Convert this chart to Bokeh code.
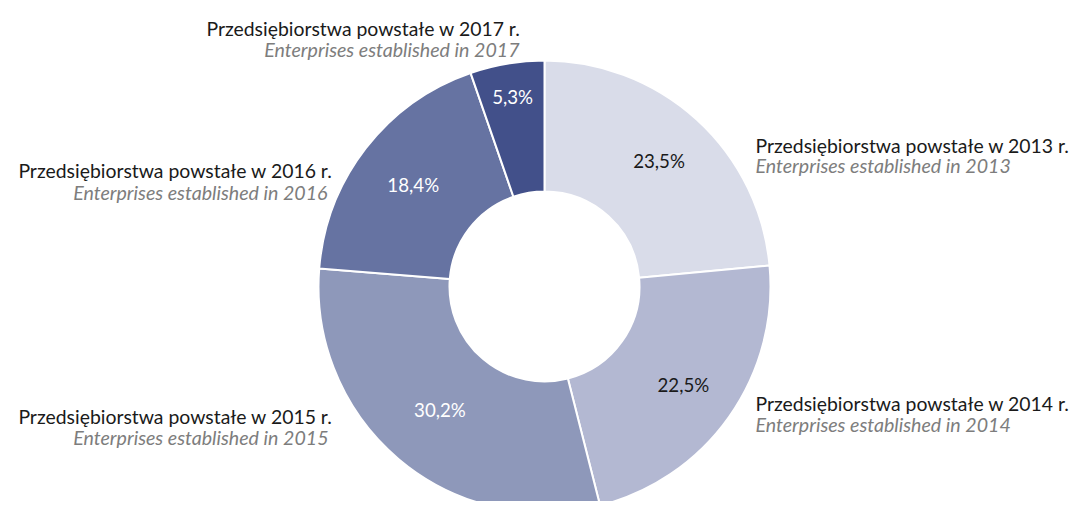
import math
from bokeh.plotting import figure
from bokeh.models import Range1d, ColumnDataSource
from bokeh.core.properties import value
from bokeh.embed import file_html
from bokeh.resources import INLINE

# ---- data ----
years = ["2013", "2014", "2015", "2016", "2017"]
shares = [23.5, 22.5, 30.2, 18.4, 5.3]
pl_labels = [
    "Przedsiębiorstwa powstałe w 2013 r.",
    "Przedsiębiorstwa powstałe w 2014 r.",
    "Przedsiębiorstwa powstałe w 2015 r.",
    "Przedsiębiorstwa powstałe w 2016 r.",
    "Przedsiębiorstwa powstałe w 2017  r.",
]
en_labels = [
    "Enterprises established in 2013",
    "Enterprises established in 2014",
    "Enterprises established in 2015",
    "Enterprises established in 2016",
    "Enterprises established in 2017",
]

# ---- styles / layout ----
colors = ["#d9dce9", "#b3b8d2", "#8e98ba", "#6673a2", "#42508a"]
pct_colors = ["#1a1a1a", "#1a1a1a", "#ffffff", "#ffffff", "#ffffff"]
FONT = "Lato"
W, H = 1074, 501


def Y(y_img):
    return -y_img


CX, CY = 544, Y(286)
R_OUT, R_IN = 226, 95
label_r = [170, 170, 162, 166, 192]
# category label anchors (x, main baseline, italic baseline, italic x, align)
cat_pos = [
    (755, 145, 165, 755, "left"),
    (755, 403, 424, 755, "left"),
    (332, 416, 437, 328, "right"),
    (332, 170, 192, 327, "right"),
    (525, 28, 49, 519, "right"),
]

p = figure(width=W, height=H, output_backend="svg", toolbar_location=None,
           x_range=Range1d(0, W), y_range=Range1d(-H, 0),
           min_border=0)
p.axis.visible = False
p.grid.visible = False
p.outline_line_color = None
p.background_fill_color = "white"
p.border_fill_color = "white"

total = sum(shares)
starts, ends, mids = [], [], []
cum = 0.0
for s in shares:
    f0 = cum / total
    cum += s
    f1 = cum / total
    starts.append(math.pi / 2 - f0 * 2 * math.pi)
    ends.append(math.pi / 2 - f1 * 2 * math.pi)
    mids.append(math.pi / 2 - (f0 + f1) / 2 * 2 * math.pi)

src = ColumnDataSource(dict(start=starts, end=ends, color=colors))
p.annular_wedge(x=CX, y=CY, inner_radius=R_IN, outer_radius=R_OUT,
                start_angle="start", end_angle="end", direction="clock",
                fill_color="color", line_color="white", line_width=2, source=src)

pct_text = [f"{s:.1f}%".replace(".", ",") for s in shares]
px = [CX + r * math.cos(a) for r, a in zip(label_r, mids)]
py = [CY + r * math.sin(a) for r, a in zip(label_r, mids)]
p.text(x=px, y=py, text=pct_text, text_color=pct_colors,
       text_align="center", text_baseline="middle",
       text_font=value(FONT), text_font_size=value("18.7px"))

for (x, yb1, yb2, x2, al), t1, t2 in zip(cat_pos, pl_labels, en_labels):
    p.text(x=[x], y=[Y(yb1)], text=[t1], text_color="#1a1a1a",
           text_align=al, text_baseline="alphabetic",
           text_font=value(FONT), text_font_size=value("19.4px"))
    p.text(x=[x2], y=[Y(yb2)], text=[t2], text_color="#7d7d7d",
           text_align=al, text_baseline="alphabetic", text_font_style="italic",
           text_font=value(FONT), text_font_size=value("19.6px"))

open("out.html", "w").write(file_html(p, INLINE))
